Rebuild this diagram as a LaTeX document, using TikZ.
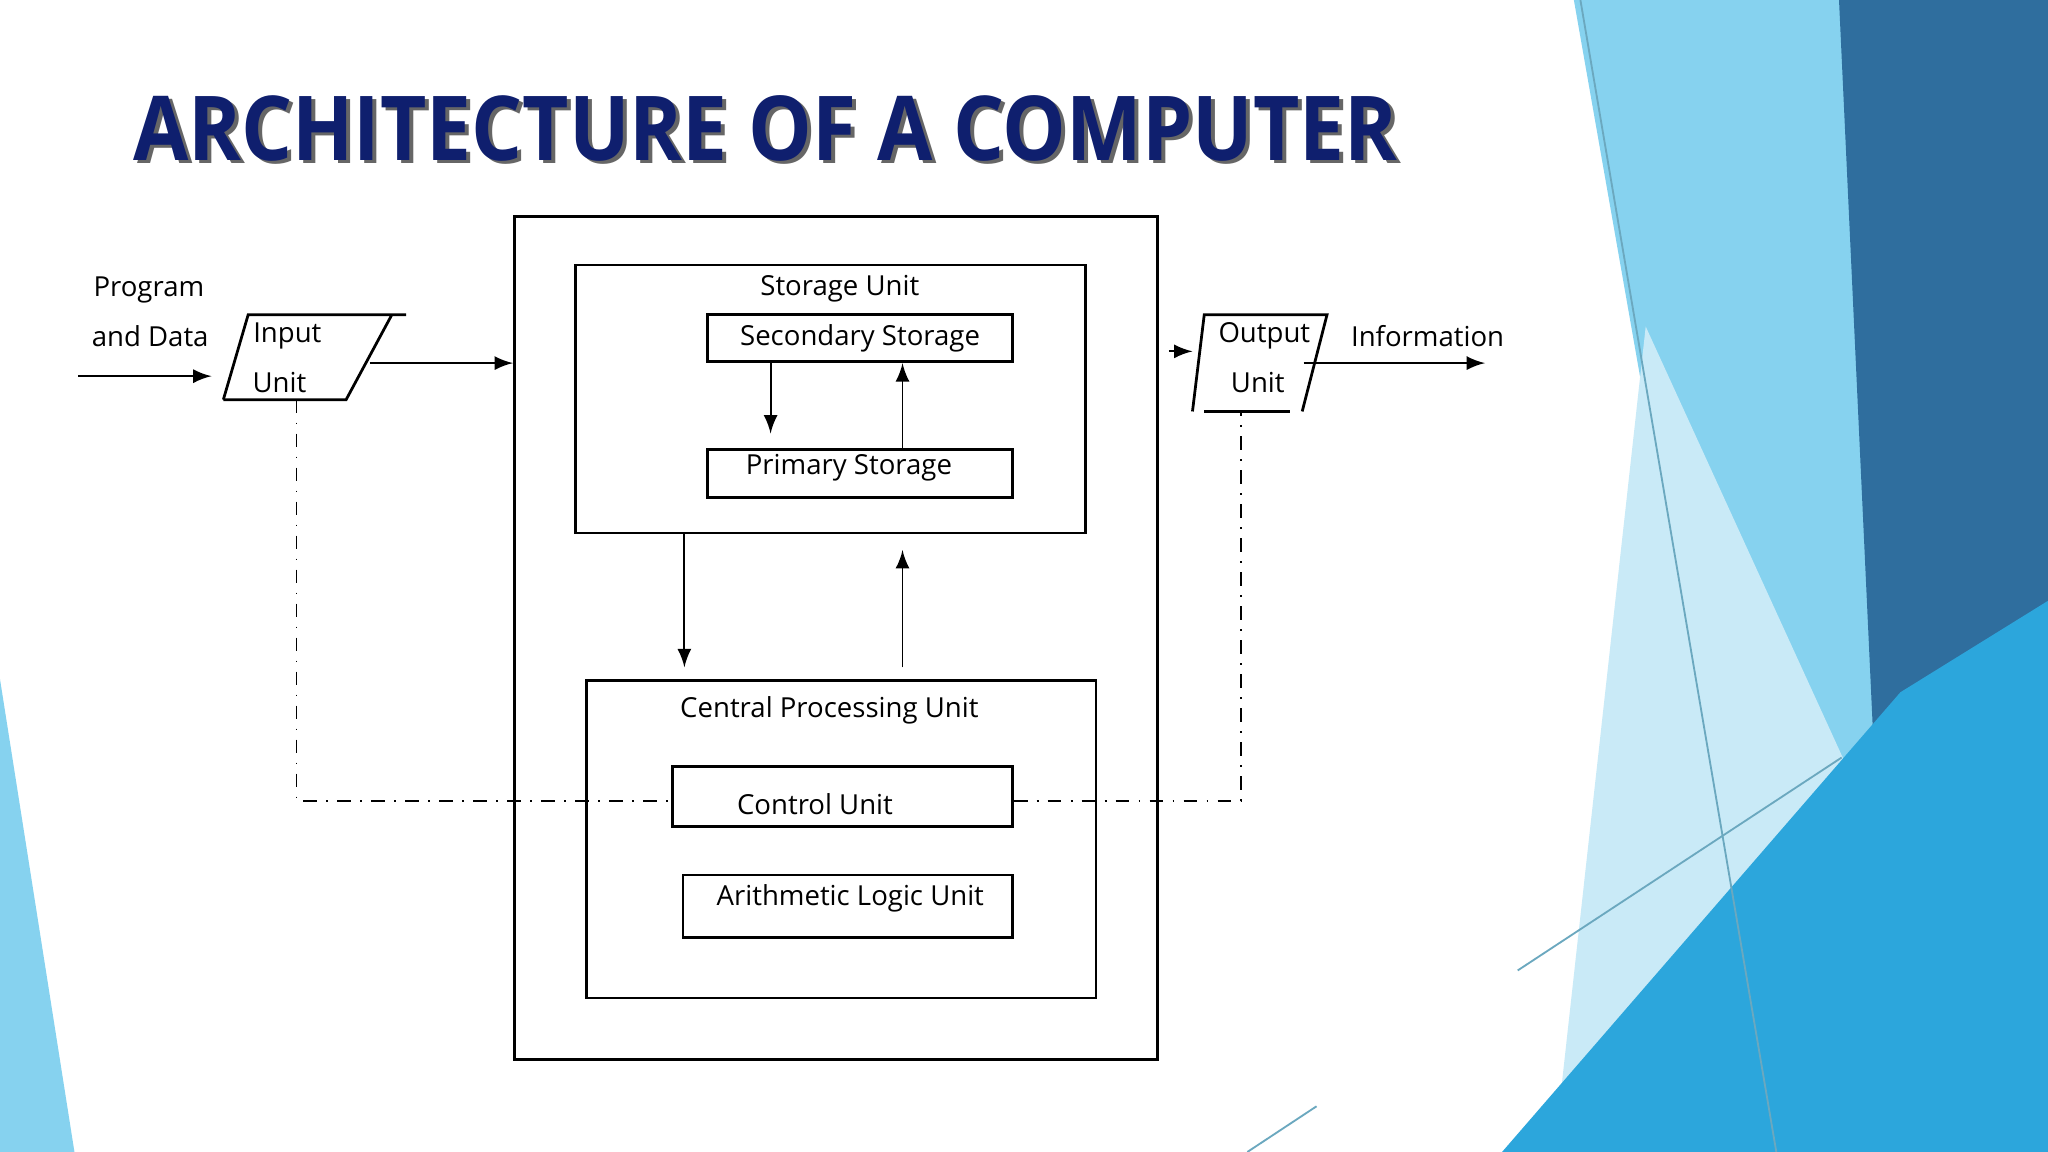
\documentclass[tikz,border=0pt]{standalone}
\usepackage{fontspec}
\setmainfont{Open Sans}
\usetikzlibrary{shapes.geometric}
\definecolor{navy}{HTML}{0F1F6E}
\definecolor{darkband}{HTML}{2F6E9E}
\definecolor{skyband}{HTML}{86D2EF}
\definecolor{paleband}{HTML}{C9EAF7}
\definecolor{brightband}{HTML}{2CA6DC}
\begin{document}
\begin{tikzpicture}[x=0.01cm,y=-0.01cm]

\tikzstyle{box}=[rectangle,draw=black,semithick,inner sep=0pt]
\tikzstyle{lbl}=[font=\fontsize{6}{7}\selectfont,inner sep=0pt]
\tikzstyle{arr}=[->,>=latex,thin]
\tikzstyle{ctrl}=[dash dot,thin]

\useasboundingbox (0,0) rectangle (1568,882);
\fill[white] (0,0) rectangle (1568,882);
% background
\fill[skyband] (1205,0) -- (1568,0) -- (1568,882) -- (1360,882) -- cycle;
\fill[paleband] (1260,250) -- (1420,600) -- (1350,882) -- (1190,882) -- cycle;
\fill[darkband] (1408,0) -- (1568,0) -- (1568,470) -- (1440,690) -- cycle;
\fill[brightband] (1150,882) -- (1455,530) -- (1568,460) -- (1568,882) -- cycle;
\fill[skyband] (0,520) -- (57,882) -- (0,882) -- cycle;
\draw[skyband!80!black] (1210,0) -- (1360,882);
\draw[skyband!80!black] (1162,743) -- (1410,580);
\draw[skyband!80!black] (955,882) -- (1008,847);

\node[font=\fontsize{19.5}{24}\bfseries\selectfont,text=black!60,inner sep=0pt] at (589,101) {\scalebox{0.895}[1]{ARCHITECTURE OF A COMPUTER}};
\node[font=\fontsize{19.5}{24}\bfseries\selectfont,text=navy,inner sep=0pt] (title) at (586,98) {\scalebox{0.895}[1]{ARCHITECTURE OF A COMPUTER}};

\node[box,minimum width=4.92cm,minimum height=6.45cm] (computer) at (640,488.5) {};
\node[box,minimum width=3.90cm,minimum height=2.05cm] (storage) at (636,305.5) {};
\node[lbl] (storagelbl) at (643,221) {Storage Unit};
\node[box,minimum width=2.33cm,minimum height=0.36cm,lbl] (secondary) at (658.5,259) {Secondary Storage};
\node[box,minimum width=2.33cm,minimum height=0.37cm] (primary) at (658.5,362.5) {};
\node[lbl] (primarylbl) at (650,358) {Primary Storage};
\node[box,minimum width=3.90cm,minimum height=2.43cm] (cpu) at (644,642.5) {};
\node[lbl] (cpulbl) at (635,544) {Central Processing Unit};
\node[box,minimum width=2.60cm,minimum height=0.46cm] (control) at (645,610) {};
\node[lbl] (controllbl) at (624,616) {Control Unit};
\node[box,minimum width=2.52cm,minimum height=0.48cm] (alu) at (649,694) {};
\node[lbl] (alulbl) at (651,688) {Arithmetic Logic Unit};

\node[lbl] (program) at (114,222) {Program};
\node[lbl] (data) at (115,257) {and Data};
\node[lbl] (inputlbl) at (220,257) {Input};
\node[lbl] (inputunit) at (214,293) {Unit};
\node[lbl] (outputlbl) at (968,257) {Output};
\node[lbl] (outputunit) at (963,293) {Unit};
\node[lbl] (info) at (1093,257) {Information};

\draw[semithick] (171,306) -- (190,241) -- (311,241);
\draw[semithick] (300,241) -- (265,306) -- (171,306);
\draw[semithick] (913,315) -- (922,241) -- (1016,241) -- (997,315);
\draw[semithick] (922,315) -- (988,315);

\coordinate (inA) at (60,288);
\coordinate (inB) at (162,288);
\draw[arr] (inA) -- (inB);
\coordinate (inC) at (283,278);
\draw[arr] (inC) -- (computer.west |- inC);
\coordinate (outA) at (895,269);
\coordinate (outB) at (913,269);
\draw[arr] (outA) -- (outB);
\coordinate (outC) at (998,278);
\coordinate (outD) at (1137,278);
\draw[arr] (outC) -- (outD);

\coordinate (xdown) at (590,0);
\coordinate (xup) at (691,0);
\coordinate (xleft) at (524,0);
\coordinate (yctrl) at (0,613);
\draw[arr] (xdown |- secondary.south) -- ([yshift=0.11cm]xdown |- primary.north);
\draw[arr] (xup |- primary.north) -- (xup |- secondary.south);
\draw[arr] (xleft |- storage.south) -- ([yshift=0.09cm]xleft |- cpu.north);
\draw[arr] ([yshift=0.09cm]xup |- cpu.north) -- ([yshift=-0.12cm]xup |- storage.south);

\draw[ctrl] (227,306) -- (227,613) -- (control.west |- yctrl);
\draw[ctrl] (control.east |- yctrl) -- (950,613) -- (950,315);
\end{tikzpicture}
\end{document}
